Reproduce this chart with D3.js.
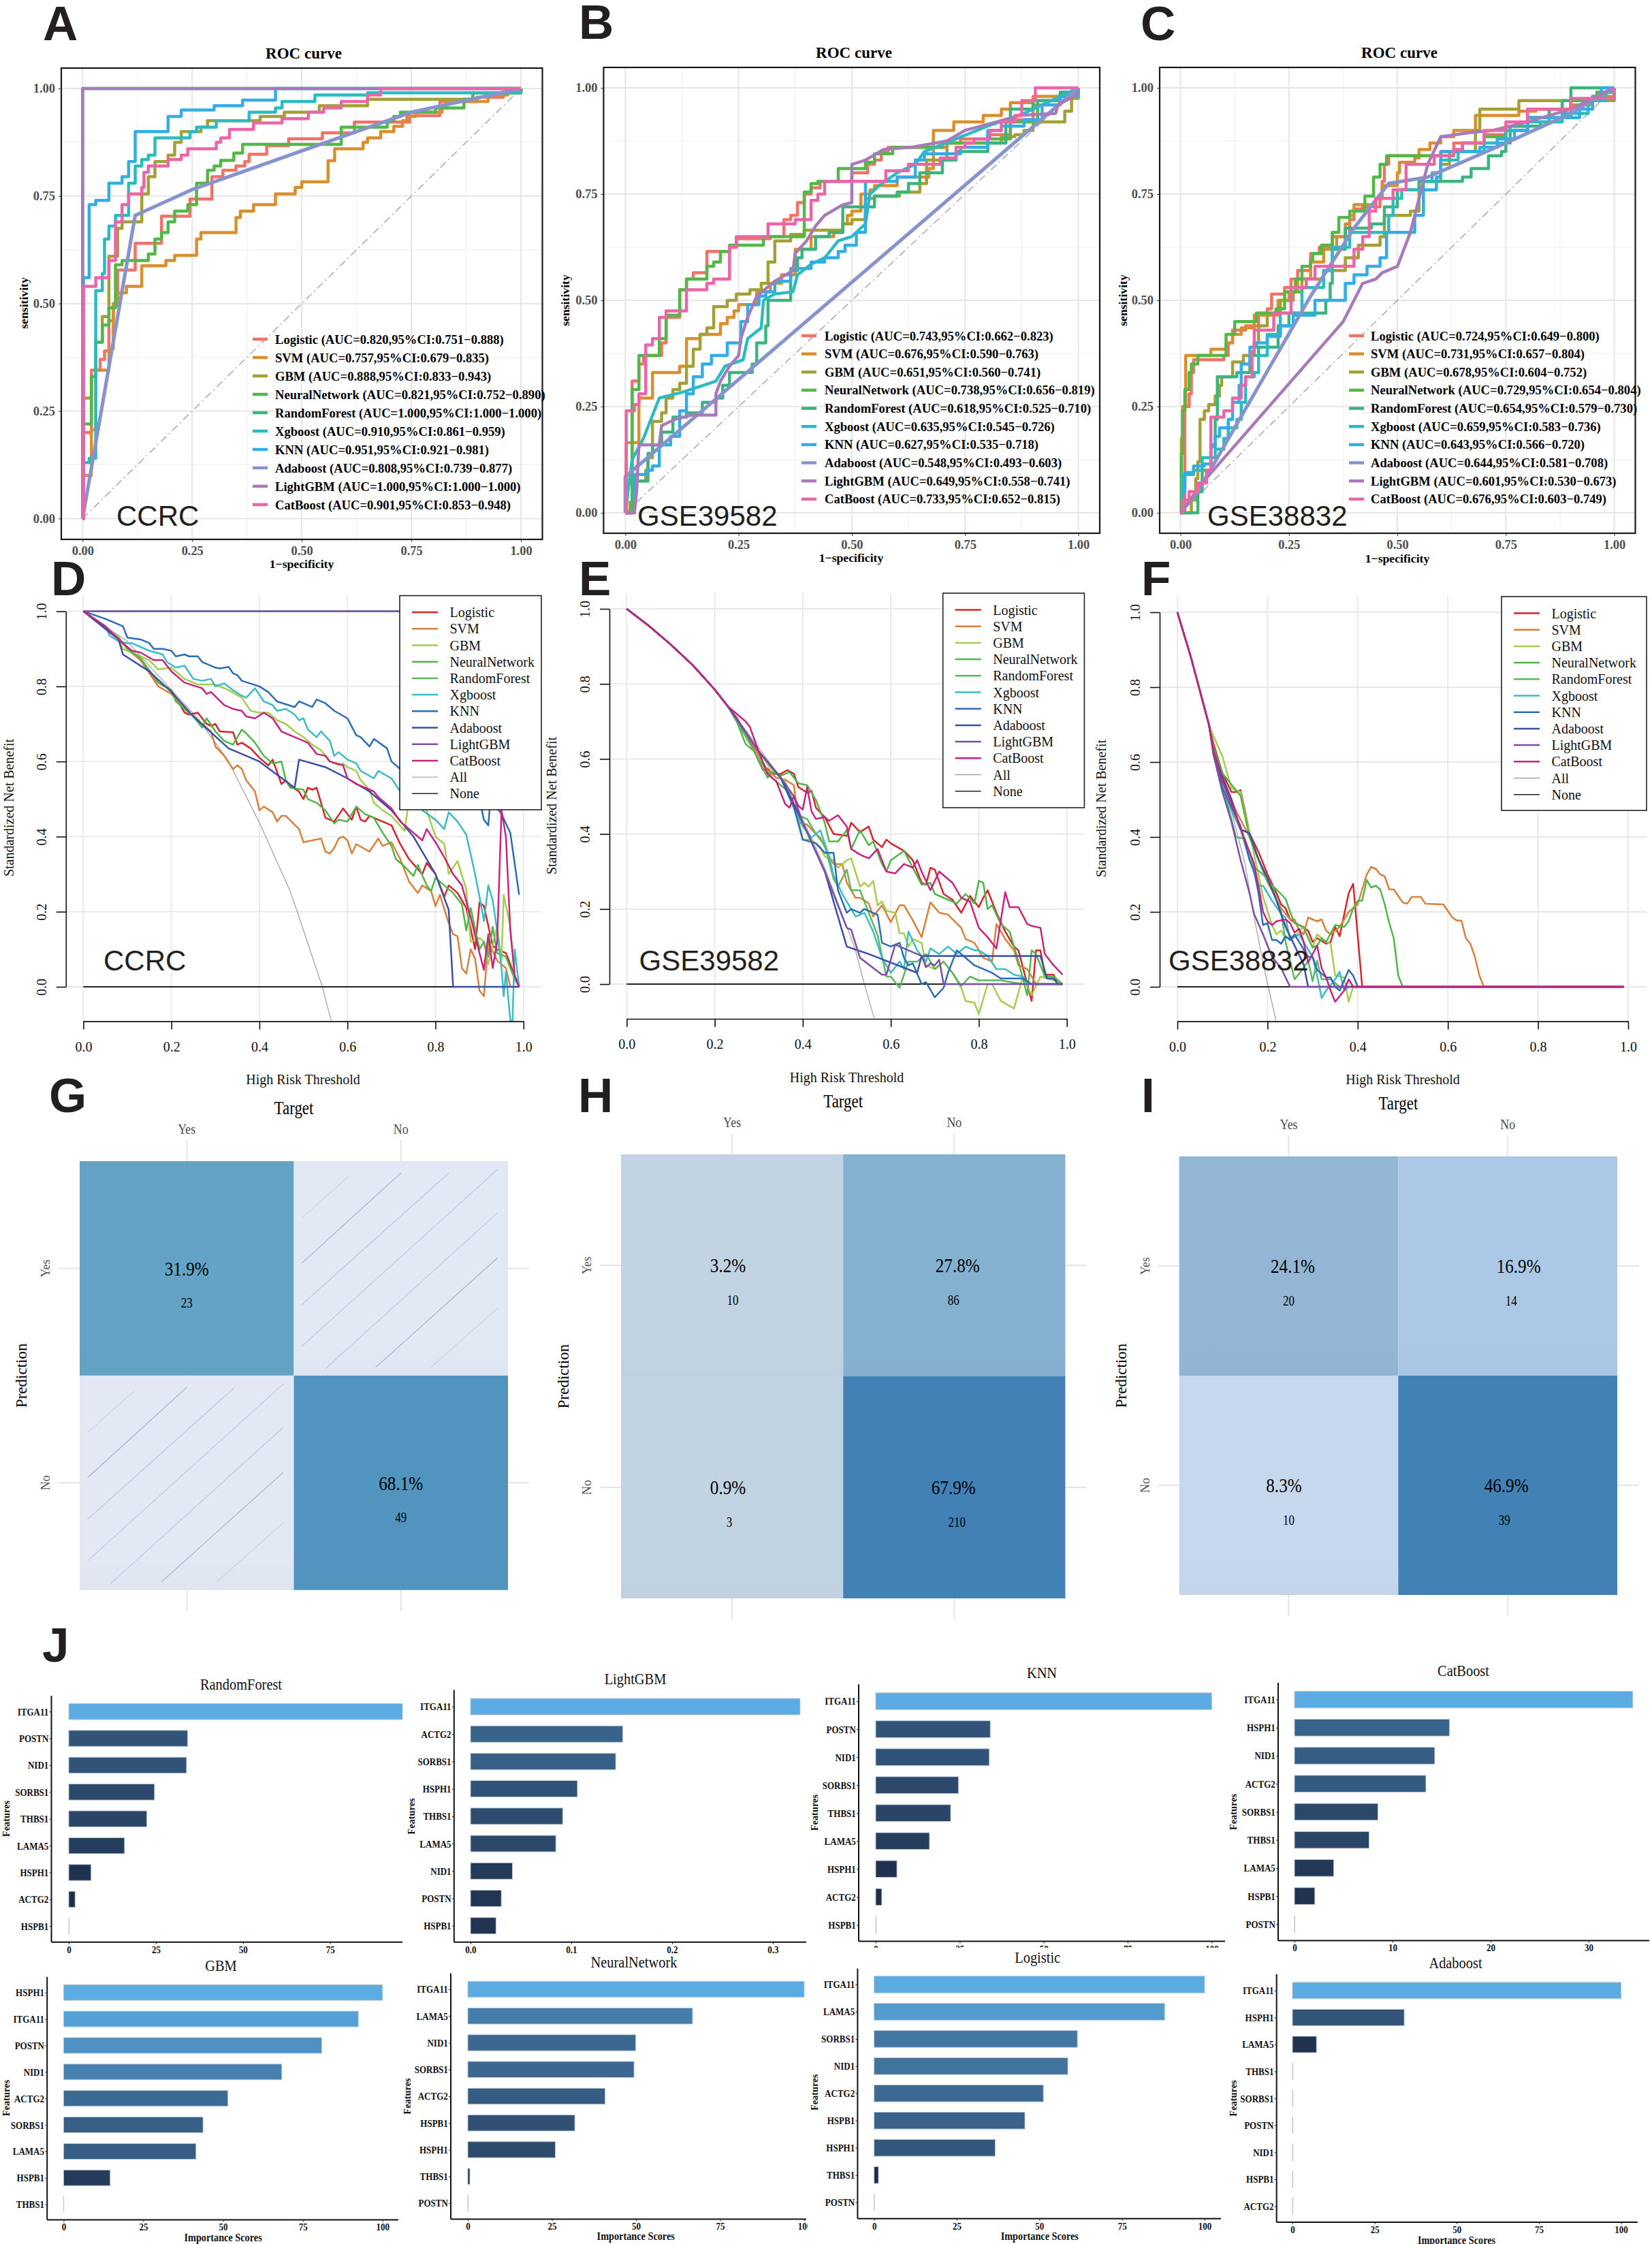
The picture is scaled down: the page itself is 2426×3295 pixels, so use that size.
<!DOCTYPE html>
<html>
<head>
<meta charset="utf-8">
<script src="https://cdn.jsdelivr.net/npm/d3@7"></script>
<style>
  body { margin: 0; background: #fff; }
  svg { display: block; }
</style>
</head>
<body>
<svg id="fig" width="2426" height="3295"></svg>
<script>
var models = ["Logistic", "SVM", "GBM", "NeuralNetwork", "RandomForest", "Xgboost", "KNN", "Adaboost", "LightGBM", "CatBoost"];

// ROC curves, panel A (CCRC)
var aucA = ["0.820,95%CI:0.751−0.888", "0.757,95%CI:0.679−0.835", "0.888,95%CI:0.833−0.943", "0.821,95%CI:0.752−0.890", "1.000,95%CI:1.000−1.000", "0.910,95%CI:0.861−0.959", "0.951,95%CI:0.921−0.981", "0.808,95%CI:0.739−0.877", "1.000,95%CI:1.000−1.000", "0.901,95%CI:0.853−0.948"];
var rocA_Logistic = [[0,0],[.002,.2],[.02,.345],[.04,.37],[.05,.39],[.06,.46],[.07,.5],[.08,.578],[.12,.64],[.18,.703],[.245,.743],[.295,.795],[.32,.81],[.35,.82],[.37,.83],[.38,.847],[.42,.867],[.47,.883],[.547,.897],[.62,.922],[.746,.937],[.815,.97],[.9,.98],[.96,.99],[1,1]];
var rocA_SVM = [[0,0],[.002,.1],[.02,.207],[.03,.345],[.06,.395],[.07,.495],[.08,.525],[.1,.54],[.135,.588],[.19,.6],[.21,.612],[.26,.65],[.27,.665],[.35,.7],[.36,.715],[.39,.73],[.44,.755],[.485,.77],[.5,.783],[.56,.832],[.575,.86],[.64,.875],[.65,.885],[.68,.9],[.71,.912],[.73,.925],[.74,.935],[.76,.945],[.82,.955],[.83,.97],[.925,.985],[.97,.995],[1,1]];
var rocA_GBM = [[0,0],[.002,.28],[.02,.33],[.03,.41],[.045,.47],[.06,.61],[.08,.675],[.09,.69],[.135,.755],[.15,.795],[.165,.83],[.195,.845],[.21,.875],[.225,.9],[.27,.91],[.285,.925],[.405,.935],[.46,.945],[.54,.96],[.65,.975],[.89,.99],[1,1]];
var rocA_NN = [[0,0],[.002,.22],[.02,.33],[.03,.41],[.045,.45],[.06,.49],[.075,.59],[.09,.6],[.15,.615],[.165,.65],[.18,.665],[.195,.69],[.21,.715],[.24,.73],[.26,.78],[.285,.81],[.3,.82],[.315,.833],[.345,.85],[.365,.87],[.59,.91],[.695,.925],[.71,.935],[.725,.945],[.805,.955],[.87,.975],[.89,.99],[1,1]];
var rocA_RF = [[0,0],[0,1],[1,1]];
var rocA_Xgb = [[0,0],[.002,.13],[.015,.14],[.03,.53],[.045,.57],[.05,.65],[.06,.68],[.075,.705],[.105,.78],[.12,.82],[.135,.835],[.15,.845],[.165,.885],[.245,.9],[.26,.91],[.305,.925],[.38,.945],[.44,.955],[.455,.97],[.53,.985],[.65,.99],[1,1]];
var rocA_KNN = [[0,0],[.002,.56],[.015,.73],[.03,.74],[.06,.78],[.09,.795],[.105,.83],[.12,.9],[.195,.935],[.225,.95],[.3,.96],[.365,.973],[.44,1],[1,1]];
var rocA_Ada = [[0,0],[.12,.705],[.25,.765],[.5,.855],[.75,.945],[1,1]];
var rocA_LGB = [[0,0],[0,1],[1,1]];
var rocA_Cat = [[0,0],[.002,.54],[.03,.56],[.06,.6],[.075,.69],[.09,.73],[.105,.755],[.135,.77],[.14,.805],[.15,.82],[.195,.835],[.225,.845],[.24,.86],[.305,.875],[.315,.885],[.335,.905],[.39,.92],[.455,.93],[.515,.945],[.55,.955],[.59,.97],[.65,.985],[.68,1],[1,1]];

// ROC curves, panel B (GSE39582)
var aucB = ["0.743,95%CI:0.662−0.823", "0.676,95%CI:0.590−0.763", "0.651,95%CI:0.560−0.741", "0.738,95%CI:0.656−0.819", "0.618,95%CI:0.525−0.710", "0.635,95%CI:0.545−0.726", "0.627,95%CI:0.535−0.718", "0.548,95%CI:0.493−0.603", "0.649,95%CI:0.558−0.741", "0.733,95%CI:0.652−0.815"];
var rocB_Logistic = [[0,0],[.015,.31],[.03,.35],[.04,.37],[.08,.4],[.09,.46],[.12,.525],[.135,.55],[.15,.565],[.18,.615],[.23,.625],[.245,.645],[.32,.65],[.35,.69],[.365,.7],[.38,.73],[.395,.75],[.41,.765],[.43,.78],[.5,.8],[.535,.82],[.55,.83],[.565,.85],[.58,.86],[.71,.87],[.74,.88],[.8,.89],[.85,.925],[.9,.96],[.96,.985],[1,1]];
var rocB_SVM = [[0,0],[.002,.165],[.03,.27],[.06,.33],[.12,.345],[.135,.41],[.165,.42],[.21,.445],[.225,.46],[.24,.475],[.25,.49],[.29,.52],[.32,.54],[.345,.56],[.375,.62],[.41,.65],[.46,.66],[.48,.68],[.49,.7],[.5,.71],[.52,.75],[.54,.76],[.55,.77],[.6,.79],[.67,.81],[.68,.9],[.725,.92],[.79,.935],[.83,.95],[.85,.965],[.9,.98],[.97,.99],[1,1]];
var rocB_GBM = [[0,0],[.01,.025],[.02,.075],[.045,.1],[.05,.13],[.06,.215],[.08,.235],[.09,.27],[.105,.29],[.12,.305],[.135,.345],[.15,.385],[.165,.42],[.18,.435],[.195,.485],[.225,.5],[.245,.515],[.275,.525],[.3,.54],[.315,.59],[.33,.64],[.365,.655],[.395,.665],[.48,.68],[.5,.69],[.53,.74],[.55,.745],[.605,.755],[.65,.775],[.665,.83],[.71,.87],[.83,.885],[.86,.89],[.88,.9],[.9,.92],[.97,.945],[.985,.975],[1,.99]];
var rocB_NN = [[0,0],[.015,.29],[.03,.37],[.075,.41],[.09,.465],[.12,.525],[.135,.55],[.18,.58],[.195,.59],[.21,.615],[.23,.63],[.305,.65],[.395,.755],[.41,.775],[.425,.78],[.47,.81],[.53,.825],[.55,.845],[.59,.86],[.7,.87],[.8,.88],[.85,.92],[.91,.97],[.96,.985],[1,1]];
var rocB_RF = [[0,0],[.02,.075],[.05,.14],[.06,.16],[.08,.19],[.105,.225],[.135,.235],[.17,.26],[.2,.27],[.215,.3],[.23,.33],[.28,.35],[.29,.4],[.31,.44],[.315,.5],[.365,.57],[.38,.6],[.39,.62],[.42,.65],[.45,.66],[.48,.72],[.55,.745],[.6,.755],[.625,.775],[.65,.8],[.7,.83],[.73,.85],[.8,.87],[.84,.92],[.85,.95],[.9,.97],[.96,.99],[1,1]];
var rocB_Xgb = [[0,0],[.015,.125],[.04,.175],[.075,.27],[.13,.285],[.2,.31],[.22,.345],[.26,.36],[.27,.41],[.3,.435],[.305,.5],[.33,.515],[.37,.52],[.38,.56],[.41,.585],[.44,.6],[.47,.64],[.5,.65],[.53,.68],[.54,.75],[.56,.77],[.6,.8],[.64,.82],[.66,.85],[.73,.88],[.8,.91],[.88,.94],[1,1]];
var rocB_KNN = [[0,0],[.02,.09],[.05,.1],[.06,.11],[.075,.16],[.1,.18],[.12,.24],[.135,.28],[.15,.32],[.17,.35],[.19,.37],[.225,.4],[.255,.45],[.27,.49],[.295,.51],[.31,.52],[.33,.545],[.365,.575],[.41,.59],[.44,.6],[.47,.615],[.485,.63],[.51,.66],[.53,.78],[.6,.79],[.64,.83],[.66,.845],[.74,.86],[.8,.9],[.83,.91],[.88,.925],[.92,.96],[.96,.98],[1,1]];
var rocB_Ada = [[0,0],[0,.085],[1,1]];
var rocB_LGB = [[0,0],[.02,0],[.025,.05],[.03,.16],[.075,.16],[.08,.205],[.11,.22],[.145,.23],[.2,.23],[.2,.28],[.21,.31],[.23,.345],[.25,.37],[.255,.41],[.27,.46],[.29,.51],[.33,.545],[.37,.57],[.375,.61],[.4,.64],[.42,.675],[.44,.7],[.48,.725],[.5,.73],[.5,.82],[.53,.83],[.57,.855],[.63,.86],[.71,.875],[.75,.9],[.82,.92],[.87,.935],[.95,.94],[.955,.96],[.99,.98],[1,.99]];
var rocB_Cat = [[0,0],[.002,.24],[.02,.255],[.03,.28],[.045,.395],[.06,.41],[.075,.46],[.09,.475],[.135,.525],[.18,.54],[.195,.55],[.23,.625],[.245,.65],[.315,.68],[.375,.69],[.41,.735],[.425,.75],[.44,.78],[.575,.805],[.625,.82],[.695,.835],[.73,.86],[.75,.87],[.77,.88],[.805,.9],[.83,.92],[.86,.935],[.875,.97],[.905,1],[1,1]];

// ROC curves, panel C (GSE38832)
var aucC = ["0.724,95%CI:0.649−0.800", "0.731,95%CI:0.657−0.804", "0.678,95%CI:0.604−0.752", "0.729,95%CI:0.654−0.804", "0.654,95%CI:0.579−0.730", "0.659,95%CI:0.583−0.736", "0.643,95%CI:0.566−0.720", "0.644,95%CI:0.581−0.708", "0.601,95%CI:0.530−0.673", "0.676,95%CI:0.603−0.749"];
var rocC_Logistic = [[0,0],[.01,.25],[.02,.28],[.025,.33],[.03,.36],[.1,.37],[.11,.4],[.12,.43],[.15,.44],[.18,.47],[.2,.48],[.21,.515],[.24,.53],[.255,.55],[.27,.57],[.3,.61],[.32,.625],[.35,.65],[.39,.69],[.4,.715],[.42,.72],[.46,.74],[.465,.78],[.47,.82],[.48,.84],[.6,.85],[.63,.87],[.7,.89],[.75,.91],[.8,.93],[.85,.95],[.9,.97],[.96,.99],[1,1]];
var rocC_SVM = [[0,0],[.002,.175],[.005,.25],[.012,.37],[.07,.385],[.105,.4],[.12,.42],[.14,.435],[.17,.465],[.225,.5],[.25,.52],[.27,.55],[.3,.59],[.33,.62],[.36,.65],[.38,.68],[.39,.7],[.4,.725],[.45,.74],[.465,.77],[.5,.8],[.505,.825],[.54,.835],[.55,.855],[.575,.87],[.6,.885],[.63,.9],[.68,.935],[.78,.945],[.82,.95],[.9,.96],[.95,.98],[1,1]];
var rocC_GBM = [[0,0],[.02,0],[.025,.03],[.035,.08],[.04,.12],[.045,.22],[.055,.24],[.065,.255],[.08,.275],[.09,.3],[.095,.32],[.12,.355],[.145,.37],[.17,.4],[.18,.44],[.2,.47],[.23,.5],[.26,.52],[.28,.55],[.33,.57],[.38,.6],[.41,.63],[.46,.65],[.47,.7],[.53,.71],[.55,.78],[.6,.82],[.62,.85],[.68,.9],[.69,.95],[.78,.97],[.985,.97],[1,1]];
var rocC_NN = [[0,0],[.002,.14],[.005,.24],[.01,.29],[.02,.33],[.025,.35],[.04,.37],[.105,.42],[.125,.45],[.175,.47],[.22,.48],[.24,.52],[.265,.55],[.28,.58],[.3,.595],[.305,.61],[.325,.63],[.35,.66],[.365,.695],[.39,.71],[.425,.745],[.445,.79],[.46,.82],[.475,.84],[.63,.85],[.65,.87],[.7,.885],[.75,.9],[.8,.93],[.9,.97],[.96,.99],[1,1]];
var rocC_RF = [[0,0],[.03,0],[.04,.05],[.05,.1],[.07,.16],[.08,.22],[.085,.32],[.13,.33],[.16,.37],[.18,.39],[.225,.44],[.25,.47],[.335,.5],[.345,.54],[.35,.62],[.38,.67],[.44,.68],[.47,.72],[.5,.76],[.55,.78],[.65,.79],[.67,.81],[.71,.84],[.74,.85],[.75,.87],[.76,.91],[.83,.92],[.85,.95],[.88,.97],[.9,1],[1,1]];
var rocC_Xgb = [[0,0],[.005,.09],[.03,.1],[.05,.13],[.08,.15],[.1,.175],[.11,.2],[.13,.22],[.14,.26],[.15,.32],[.17,.33],[.18,.37],[.2,.42],[.23,.47],[.28,.53],[.33,.57],[.35,.625],[.39,.66],[.48,.7],[.49,.74],[.51,.76],[.56,.78],[.58,.8],[.6,.83],[.64,.85],[.7,.87],[.75,.9],[.8,.92],[.88,.94],[.94,.97],[.98,.99],[1,1]];
var rocC_KNN = [[0,0],[.005,.05],[.01,.095],[.03,.11],[.055,.115],[.07,.155],[.08,.18],[.09,.2],[.11,.22],[.12,.26],[.135,.3],[.14,.35],[.16,.39],[.175,.4],[.2,.415],[.23,.44],[.26,.465],[.31,.5],[.38,.54],[.4,.56],[.43,.58],[.46,.6],[.475,.66],[.54,.7],[.56,.76],[.59,.79],[.6,.85],[.69,.86],[.73,.88],[.77,.9],[.8,.93],[.92,.95],[.95,.98],[.97,1],[1,1]];
var rocC_Ada = [[0,0],[.04,.05],[.3,.51],[.4,.67],[.48,.775],[.57,.79],[.75,.87],[.9,.94],[.98,.99],[1,1]];
var rocC_LGB = [[0,0],[.05,.07],[.375,.45],[.42,.54],[.45,.55],[.465,.565],[.5,.58],[.53,.66],[.55,.74],[.57,.82],[.6,.885],[.67,.895],[.72,.9],[.8,.92],[.9,.95],[.96,.98],[1,1]];
var rocC_Cat = [[0,0],[.005,.03],[.02,.05],[.04,.07],[.06,.1],[.07,.225],[.1,.24],[.12,.27],[.14,.3],[.15,.32],[.165,.38],[.17,.43],[.215,.47],[.255,.53],[.29,.55],[.31,.58],[.4,.62],[.42,.65],[.435,.71],[.45,.74],[.49,.76],[.52,.82],[.585,.84],[.63,.855],[.65,.87],[.7,.9],[.75,.92],[.8,.95],[.9,.975],[1,.99],[1,1]];

// decision curves, panel D
var dcaD_All = [[0,1],[.1,.92],[.2,.79],[.26,.715],[.328,.604],[.4,.437],[.468,.26],[.486,.2],[.543,0],[.563,-.09]];
var dcaD_Logistic = [[0,1],[.08,.93],[.1,.9],[.13,.87],[.17,.81],[.2,.79],[.21,.77],[.23,.73],[.24,.725],[.26,.73],[.28,.7],[.29,.695],[.3,.7],[.31,.68],[.34,.678],[.35,.645],[.36,.65],[.38,.635],[.4,.61],[.41,.6],[.42,.59],[.43,.605],[.45,.54],[.46,.55],[.47,.535],[.49,.52],[.5,.5],[.51,.53],[.52,.525],[.53,.53],[.55,.45],[.57,.44],[.59,.475],[.61,.445],[.62,.48],[.63,.445],[.64,.44],[.65,.455],[.68,.44],[.7,.43],[.72,.38],[.74,.34],[.77,.3],[.78,.33],[.8,.3],[.82,.24],[.83,.27],[.85,.25],[.87,.21],[.89,.1],[.9,.225],[.91,.215],[.93,.11],[.94,.1],[.96,.09],[.98,.03],[.99,0]];
var dcaD_SVM = [[0,1],[.08,.93],[.1,.9],[.13,.87],[.17,.8],[.2,.78],[.23,.74],[.25,.72],[.27,.7],[.29,.68],[.3,.64],[.32,.615],[.34,.58],[.35,.59],[.36,.58],[.37,.55],[.39,.52],[.4,.47],[.41,.48],[.43,.465],[.44,.44],[.45,.455],[.46,.455],[.49,.42],[.5,.385],[.54,.395],[.55,.36],[.56,.355],[.57,.37],[.58,.395],[.59,.4],[.6,.39],[.61,.355],[.62,.38],[.65,.36],[.67,.395],[.68,.375],[.7,.385],[.72,.34],[.74,.28],[.76,.25],[.77,.27],[.79,.255],[.8,.215],[.81,.245],[.83,.17],[.84,.14],[.85,.135],[.86,.05],[.87,.035],[.88,.1],[.89,.075],[.9,-.01],[.91,-.025],[.92,.12],[.94,.07],[.96,.05],[.97,0],[.99,0]];
var dcaD_GBM = [[0,1],[.05,.96],[.08,.93],[.09,.9],[.12,.885],[.15,.87],[.17,.845],[.2,.85],[.23,.82],[.26,.805],[.3,.805],[.33,.79],[.36,.77],[.38,.735],[.4,.73],[.42,.73],[.44,.71],[.46,.7],[.48,.68],[.5,.665],[.52,.645],[.54,.63],[.56,.6],[.58,.59],[.59,.595],[.6,.585],[.62,.575],[.63,.55],[.65,.525],[.66,.49],[.68,.47],[.7,.455],[.73,.415],[.74,.5],[.76,.5],[.78,.47],[.8,.4],[.82,.38],[.83,.3],[.85,.335],[.87,.26],[.88,.12],[.9,.13],[.91,.12],[.92,.06],[.94,.16],[.95,.07],[.955,.245],[.97,.16],[.98,.03],[.99,0]];
var dcaD_NN = [[0,1],[.08,.93],[.1,.9],[.13,.875],[.17,.81],[.2,.79],[.21,.76],[.23,.74],[.25,.72],[.27,.69],[.28,.715],[.3,.68],[.32,.655],[.34,.645],[.36,.685],[.37,.675],[.39,.65],[.41,.615],[.43,.595],[.45,.6],[.46,.55],[.47,.53],[.5,.525],[.51,.5],[.53,.49],[.55,.47],[.57,.435],[.58,.445],[.6,.44],[.62,.48],[.64,.46],[.66,.45],[.68,.41],[.7,.375],[.71,.34],[.73,.32],[.75,.295],[.76,.325],[.78,.27],[.79,.255],[.8,.29],[.82,.27],[.84,.25],[.86,.22],[.87,.15],[.88,.21],[.9,.1],[.91,.12],[.92,.08],[.93,.16],[.94,.09],[.96,.08],[.98,.02],[.99,0]];
var dcaD_RF = [[0,1],[.99,1]];
var dcaD_Xgb = [[0,1],[.05,.96],[.06,.935],[.08,.92],[.1,.915],[.11,.915],[.13,.905],[.15,.895],[.18,.885],[.19,.865],[.21,.85],[.23,.855],[.25,.82],[.27,.815],[.29,.82],[.3,.8],[.32,.808],[.34,.79],[.36,.775],[.37,.77],[.39,.795],[.41,.76],[.43,.75],[.44,.735],[.46,.74],[.48,.725],[.49,.71],[.5,.715],[.51,.685],[.53,.665],[.54,.68],[.56,.655],[.57,.615],[.58,.625],[.6,.605],[.62,.595],[.63,.575],[.66,.555],[.67,.575],[.7,.555],[.72,.52],[.74,.5],[.77,.47],[.8,.445],[.82,.42],[.83,.465],[.85,.44],[.87,.405],[.89,.3],[.9,.24],[.91,.175],[.92,.27],[.93,.23],[.94,.15],[.95,.05],[.955,-.025],[.96,.04],[.97,-.09],[.975,-.09],[.98,.1],[.99,0]];
var dcaD_KNN = [[0,1],[.05,.98],[.08,.965],[.09,.96],[.1,.93],[.13,.925],[.15,.915],[.16,.9],[.18,.9],[.2,.895],[.21,.88],[.23,.885],[.24,.88],[.26,.88],[.27,.865],[.3,.85],[.31,.848],[.33,.852],[.34,.835],[.35,.83],[.36,.815],[.4,.8],[.42,.785],[.44,.76],[.48,.745],[.49,.76],[.52,.745],[.53,.765],[.55,.755],[.57,.735],[.6,.715],[.62,.67],[.63,.665],[.65,.64],[.66,.66],[.69,.635],[.7,.6],[.72,.58],[.74,.55],[.85,.55],[.9,.5],[.91,.445],[.92,.43],[.925,.5],[.95,.46],[.97,.41],[.99,.245]];
var dcaD_Ada = [[0,1],[.08,.925],[.09,.885],[.15,.84],[.2,.785],[.25,.72],[.33,.635],[.4,.6],[.48,.53],[.49,.605],[.55,.585],[.6,.555],[.65,.52],[.7,.47],[.75,.4],[.78,.34],[.8,.3],[.83,.205],[.84,0],[.99,0]];
var dcaD_LGB = [[0,1],[.99,1]];
var dcaD_Cat = [[0,1],[.05,.96],[.08,.925],[.11,.895],[.13,.89],[.16,.87],[.18,.87],[.2,.84],[.23,.81],[.27,.795],[.28,.78],[.29,.785],[.32,.75],[.34,.74],[.36,.735],[.37,.72],[.39,.715],[.41,.73],[.43,.715],[.45,.68],[.48,.665],[.51,.65],[.53,.62],[.55,.615],[.56,.6],[.59,.59],[.6,.555],[.62,.54],[.66,.52],[.67,.505],[.7,.475],[.72,.44],[.74,.42],[.77,.39],[.78,.42],[.8,.385],[.82,.345],[.84,.3],[.86,.27],[.88,.185],[.9,.09],[.91,.045],[.92,.14],[.93,.05],[.94,.12],[.95,.47],[.96,.4],[.97,.15],[.98,.03],[.99,0]];

// decision curves, panel E (every model shares the same start)
var dcaE_head = [[0,1],[.05,.955],[.1,.905],[.15,.85],[.2,.785],[.23,.74]];
var dcaE_All = [[.3,.63],[.35,.55],[.4,.44],[.45,.31],[.518,.097],[.54,0],[.562,-.09]];
var dcaE_Logistic = [[.25,.71],[.27,.67],[.29,.62],[.31,.57],[.32,.575],[.33,.56],[.35,.56],[.365,.57],[.38,.56],[.39,.525],[.41,.51],[.42,.515],[.43,.47],[.45,.445],[.47,.4],[.5,.395],[.51,.43],[.53,.405],[.55,.42],[.56,.385],[.58,.365],[.59,.385],[.6,.375],[.63,.355],[.65,.33],[.67,.27],[.68,.265],[.69,.31],[.7,.305],[.72,.24],[.74,.225],[.76,.19],[.78,.235],[.8,.205],[.81,.23],[.82,.25],[.84,.19],[.86,.14],[.88,.1],[.89,.09],[.91,0],[.92,-.045],[.93,.09],[.94,.09],[.95,.025],[.97,.025],[.98,0],[.99,0]];
var dcaE_SVM = [[.27,.67],[.3,.61],[.32,.57],[.34,.55],[.36,.545],[.38,.53],[.39,.43],[.41,.425],[.43,.4],[.44,.39],[.46,.34],[.47,.32],[.49,.32],[.5,.27],[.52,.23],[.53,.23],[.55,.215],[.56,.18],[.58,.21],[.6,.165],[.62,.21],[.63,.21],[.65,.17],[.67,.125],[.69,.218],[.71,.19],[.73,.185],[.76,.15],[.77,.12],[.79,.11],[.81,.07],[.83,.06],[.84,.16],[.86,.12],[.88,.09],[.89,.05],[.91,.04],[.93,0],[.99,0]];
var dcaE_GBM = [[.27,.67],[.3,.62],[.33,.57],[.36,.54],[.38,.48],[.39,.44],[.4,.385],[.42,.385],[.44,.365],[.45,.34],[.47,.33],[.48,.31],[.5,.33],[.51,.335],[.53,.26],[.54,.27],[.55,.26],[.56,.275],[.57,.21],[.58,.22],[.59,.195],[.61,.19],[.62,.135],[.63,.135],[.64,.1],[.65,.12],[.67,.11],[.68,.05],[.7,.04],[.72,.06],[.74,.03],[.76,-.01],[.77,-.045],[.79,-.05],[.8,-.08],[.82,0],[.83,0],[.85,-.045],[.88,-.065],[.9,.02],[.92,-.03],[.94,.02],[.97,.01],[.99,0]];
var dcaE_NN = [[.25,.7],[.27,.64],[.29,.62],[.32,.55],[.33,.565],[.35,.555],[.37,.565],[.39,.535],[.41,.53],[.43,.49],[.45,.43],[.46,.38],[.48,.38],[.5,.41],[.51,.36],[.53,.41],[.55,.37],[.56,.38],[.58,.32],[.59,.3],[.6,.33],[.63,.355],[.65,.31],[.67,.265],[.69,.27],[.7,.24],[.72,.23],[.75,.215],[.77,.24],[.79,.215],[.8,.275],[.81,.27],[.82,.2],[.83,.21],[.85,.16],[.87,.14],[.89,.06],[.91,-.03],[.92,.09],[.93,.08],[.95,.02],[.97,.02],[.99,0]];
var dcaE_RF = [[.27,.66],[.3,.6],[.33,.55],[.37,.51],[.39,.45],[.41,.44],[.43,.4],[.45,.37],[.47,.28],[.48,.26],[.5,.305],[.51,.25],[.53,.25],[.55,.19],[.57,.13],[.59,.02],[.6,.02],[.62,-.01],[.64,.06],[.66,.06],[.68,.08],[.7,.04],[.72,.06],[.74,.03],[.76,-.005],[.78,.02],[.8,.01],[.85,.01],[.9,0],[.99,0]];
var dcaE_Xgb = [[.3,.62],[.35,.55],[.38,.47],[.4,.42],[.42,.39],[.44,.41],[.46,.34],[.47,.29],[.49,.24],[.52,.18],[.54,.19],[.56,.14],[.58,.07],[.6,.03],[.62,.06],[.63,.04],[.64,.14],[.66,.09],[.68,.06],[.69,.095],[.71,.08],[.73,.1],[.75,.08],[.77,.1],[.79,.09],[.8,.09],[.82,.075],[.84,.04],[.86,.04],[.88,.025],[.9,.02],[.91,0],[.99,0]];
var dcaE_KNN = [[.3,.62],[.35,.55],[.38,.47],[.4,.385],[.43,.375],[.45,.35],[.47,.35],[.48,.25],[.5,.19],[.51,.2],[.53,.19],[.54,.2],[.57,.185],[.58,.11],[.6,.1],[.62,.11],[.63,.07],[.64,.05],[.65,.055],[.67,0],[.68,.005],[.7,-.035],[.72,-.01],[.73,.03],[.75,.09],[.77,.07],[.79,.05],[.81,.04],[.83,.03],[.85,.015],[.9,.015],[.92,0],[.99,0]];
var dcaE_Ada = [[.3,.62],[.35,.55],[.4,.43],[.45,.3],[.5,.1],[.55,.08],[.66,.03],[.67,.075],[.94,.075],[.955,.015],[.97,.015],[.98,0],[.99,0]];
var dcaE_LGB = [[.3,.62],[.35,.55],[.38,.5],[.4,.43],[.45,.3],[.5,.15],[.51,.145],[.53,.07],[.58,.025],[.59,.025],[.61,.105],[.63,.095],[.67,.075],[.68,.045],[.69,.055],[.7,.05],[.71,.065],[.72,0],[.99,0]];
var dcaE_Cat = [[.27,.7],[.28,.685],[.3,.62],[.32,.56],[.34,.54],[.36,.48],[.37,.47],[.38,.5],[.39,.475],[.4,.465],[.41,.525],[.42,.46],[.43,.44],[.45,.445],[.46,.435],[.48,.45],[.5,.42],[.51,.36],[.53,.345],[.55,.335],[.57,.36],[.59,.3],[.61,.295],[.63,.32],[.65,.31],[.66,.33],[.67,.3],[.69,.25],[.71,.3],[.74,.27],[.76,.23],[.78,.22],[.8,.15],[.82,.125],[.84,.095],[.86,.245],[.87,.205],[.89,.205],[.91,.16],[.92,.155],[.94,.15],[.95,.08],[.97,.05],[.99,.025]];

// decision curves, panel F
var dcaF_head = [[0,1],[.03,.88],[.05,.79],[.07,.7]];
var dcaF_All = [[.1,.56],[.15,.33],[.171,.18],[.199,.012],[.219,-.09]];
var dcaF_Logistic = [[.08,.65],[.1,.57],[.12,.52],[.13,.52],[.14,.525],[.15,.47],[.16,.41],[.18,.36],[.2,.3],[.22,.25],[.23,.22],[.24,.21],[.25,.18],[.27,.165],[.29,.15],[.3,.12],[.31,.13],[.33,.115],[.34,.12],[.35,.16],[.36,.135],[.38,.25],[.39,.275],[.41,0],[.99,0]];
var dcaF_SVM = [[.08,.64],[.1,.56],[.13,.47],[.16,.4],[.18,.34],[.2,.28],[.23,.21],[.25,.18],[.26,.18],[.27,.15],[.28,.14],[.29,.185],[.3,.18],[.31,.175],[.32,.18],[.33,.15],[.34,.14],[.36,.16],[.38,.2],[.4,.22],[.42,.3],[.43,.32],[.44,.315],[.45,.3],[.46,.295],[.47,.26],[.48,.26],[.5,.225],[.51,.222],[.52,.24],[.54,.24],[.55,.222],[.59,.22],[.61,.185],[.62,.177],[.63,.177],[.64,.13],[.65,.115],[.66,.08],[.67,.03],[.68,0],[.99,0]];
var dcaF_GBM = [[.08,.67],[.1,.615],[.12,.53],[.14,.52],[.16,.41],[.18,.3],[.19,.24],[.21,.165],[.22,.14],[.23,.15],[.24,.13],[.26,.135],[.28,.16],[.3,.105],[.31,.14],[.33,.12],[.34,.115],[.35,.03],[.37,.025],[.38,-.04],[.39,0],[.99,0]];
var dcaF_NN = [[.08,.64],[.1,.57],[.12,.54],[.14,.51],[.16,.4],[.18,.34],[.2,.28],[.22,.26],[.24,.235],[.25,.2],[.26,.17],[.28,.16],[.29,.13],[.3,.105],[.31,.11],[.32,.13],[.33,.12],[.35,.165],[.37,.16],[.38,.175],[.39,.21],[.4,.23],[.41,.23],[.42,.285],[.43,.265],[.44,.27],[.45,.26],[.46,.22],[.47,.17],[.48,.13],[.49,.03],[.5,0],[.99,0]];
var dcaF_RF = [[.08,.62],[.1,.54],[.13,.4],[.15,.395],[.17,.32],[.19,.3],[.21,.27],[.23,.2],[.24,.12],[.26,.02],[.28,.05],[.29,.07],[.3,.015],[.31,.07],[.32,.02],[.34,.02],[.36,0],[.99,0]];
var dcaF_Xgb = [[.08,.63],[.1,.54],[.12,.47],[.14,.42],[.16,.34],[.18,.27],[.19,.27],[.21,.23],[.23,.195],[.24,.185],[.25,.125],[.27,.14],[.29,.1],[.3,.08],[.31,.03],[.32,-.03],[.33,-.01],[.35,.02],[.36,.04],[.37,-.01],[.38,0],[.99,0]];
var dcaF_KNN = [[.08,.63],[.1,.53],[.12,.48],[.14,.43],[.16,.34],[.17,.31],[.18,.25],[.19,.165],[.2,.17],[.21,.125],[.22,.125],[.23,.115],[.24,.135],[.25,.125],[.26,.14],[.28,.1],[.29,.08],[.3,.08],[.31,.045],[.33,.025],[.34,.025],[.35,0],[.36,-.01],[.38,.045],[.39,.03],[.4,0],[.99,0]];
var dcaF_Ada = [[.08,.63],[.1,.56],[.12,.5],[.14,.42],[.16,.41],[.18,.34],[.2,.29],[.22,.23],[.24,.16],[.26,.11],[.28,.06],[.29,0],[.99,0]];
var dcaF_LGB = [[.08,.62],[.1,.52],[.12,.44],[.14,.34],[.16,.25],[.17,.195],[.19,.14],[.21,.08],[.23,.05],[.25,0],[.99,0]];
var dcaF_Cat = [[.08,.63],[.1,.55],[.13,.46],[.15,.39],[.17,.33],[.18,.27],[.19,.2],[.2,.175],[.21,.165],[.22,.175],[.24,.18],[.25,.17],[.26,.145],[.27,.155],[.28,.12],[.29,.065],[.31,.11],[.32,.05],[.33,.025],[.34,-.01],[.35,-.04],[.36,-.025],[.37,-.01],[.38,.02],[.39,0],[.99,0]];

// confusion matrices, order: Yes/Yes, Yes/No, No/Yes, No/No (prediction/target)
var classes = ["Yes", "No"];
var pctG = ["31.9%", "", "", "68.1%"], cntG = ["23", "", "", "49"];
var pctH = ["3.2%", "27.8%", "0.9%", "67.9%"], cntH = ["10", "86", "3", "210"];
var pctI = ["24.1%", "16.9%", "8.3%", "46.9%"], cntI = ["20", "14", "10", "39"];

// feature importance
var featRF = ["ITGA11", "POSTN", "NID1", "SORBS1", "THBS1", "LAMA5", "HSPH1", "ACTG2", "HSPB1"];
var impRF = [100, 34.1, 33.8, 24.6, 22.4, 16, 6.4, 1.8, 0];
var featLGB = ["ITGA11", "ACTG2", "SORBS1", "HSPH1", "THBS1", "LAMA5", "NID1", "POSTN", "HSPB1"];
var impLGB = [.327, .151, .144, .106, .0914, .0846, .0415, .0305, .0252];
var featKNN = ["ITGA11", "POSTN", "NID1", "SORBS1", "THBS1", "LAMA5", "HSPH1", "ACTG2", "HSPB1"];
var impKNN = [100, 34.1, 33.8, 24.6, 22.3, 16, 6.3, 1.8, 0];
var featCat = ["ITGA11", "HSPH1", "NID1", "ACTG2", "SORBS1", "THBS1", "LAMA5", "HSPB1", "POSTN"];
var impCat = [34.5, 15.8, 14.3, 13.4, 8.5, 7.6, 4, 2.07, 0];
var featGBM = ["HSPH1", "ITGA11", "POSTN", "NID1", "ACTG2", "SORBS1", "LAMA5", "HSPB1", "THBS1"];
var impGBM = [100, 92.4, 80.9, 68.4, 51.5, 43.7, 41.5, 14.6, 0];
var featNN = ["ITGA11", "LAMA5", "NID1", "SORBS1", "ACTG2", "HSPB1", "HSPH1", "THBS1", "POSTN"];
var impNN = [100, 66.8, 49.9, 49.4, 40.8, 31.8, 26, .6, 0];
var featLog = ["ITGA11", "LAMA5", "SORBS1", "NID1", "ACTG2", "HSPB1", "HSPH1", "THBS1", "POSTN"];
var impLog = [100, 87.9, 61.5, 58.6, 51.2, 45.6, 36.6, 1.3, 0];
var featAda = ["ITGA11", "HSPH1", "LAMA5", "THBS1", "SORBS1", "POSTN", "NID1", "HSPB1", "ACTG2"];
var impAda = [100, 34, 7.3, 0, 0, 0, 0, 0, 0];

var rocColors = ["#f0736a", "#d8902f", "#a3a035", "#52b848", "#3cb480", "#2abcc0", "#32ade6", "#8793cf", "#a87ab9", "#ea66a8"];
var dcaColors = ["#d7242b", "#d9813a", "#a6cd4d", "#4eb748", "#5cb85c", "#3dbbc4", "#2d6db5", "#3a4fa5", "#7e4ea6", "#c7247f"];
var serif = '"Liberation Serif", serif', sans = '"Liberation Sans", sans-serif';

var svg = d3.select("#fig");
var defs = svg.append("defs");
var clipN = 0;

function label(g, x, y, str, size, opt) {
  opt = opt || {};
  var t = g.append("text")
    .attr("x", x).attr("y", y)
    .attr("text-anchor", opt.anchor || "middle")
    .attr("dominant-baseline", opt.base || "central")
    .attr("font-family", opt.font || serif)
    .attr("font-size", size)
    .attr("font-weight", opt.weight || "normal")
    .attr("fill", opt.fill || "#000")
    .text(str);
  if (opt.rotate) t.attr("transform", "rotate(-90," + x + "," + y + ")");
  // the lower panels of the figure were stretched vertically, so the glyphs are narrow
  if (opt.narrow) t.attr("transform", "translate(" + x + "," + y + ") scale(" + opt.narrow + ",1) translate(" + (-x) + "," + (-y) + ")");
  return t;
}

function addClip(x, y, w, h) {
  var id = "clip" + (clipN++);
  defs.append("clipPath").attr("id", id).append("rect")
    .attr("x", x).attr("y", y).attr("width", w).attr("height", h);
  return "url(#" + id + ")";
}

function panelLetter(s, x, y) {
  label(svg, x, y, s, 71, { anchor: "start", base: "alphabetic", font: sans, weight: "bold", fill: "#231f20" });
}

// ggplot style ROC panel
function drawRoc(c, curves, auc, linear) {
  var g = svg.append("g");
  var x = d3.scaleLinear().domain([0, 1]).range([c.x0, c.x1]);
  var y = d3.scaleLinear().domain([0, 1]).range([c.y0, c.y1]);
  var minor = [.125, .375, .625, .875], major = [0, .25, .5, .75, 1];

  g.selectAll(".vmin").data(minor).enter().append("line")
    .attr("x1", x).attr("x2", x).attr("y1", c.top).attr("y2", c.bottom)
    .attr("stroke", "#f0f0f0").attr("stroke-width", 1);
  g.selectAll(".hmin").data(minor).enter().append("line")
    .attr("y1", y).attr("y2", y).attr("x1", c.left).attr("x2", c.right)
    .attr("stroke", "#f0f0f0").attr("stroke-width", 1);
  g.selectAll(".vmaj").data(major).enter().append("line")
    .attr("x1", x).attr("x2", x).attr("y1", c.top).attr("y2", c.bottom)
    .attr("stroke", "#e6e6e6").attr("stroke-width", 2);
  g.selectAll(".hmaj").data(major).enter().append("line")
    .attr("y1", y).attr("y2", y).attr("x1", c.left).attr("x2", c.right)
    .attr("stroke", "#e6e6e6").attr("stroke-width", 2);

  g.append("line").attr("x1", x(0)).attr("y1", y(0)).attr("x2", x(1)).attr("y2", y(1))
    .attr("stroke", "#b5b5b5").attr("stroke-width", 1.8).attr("stroke-dasharray", "11 5 2 5");

  var stepLine = d3.line().x(function (d) { return x(d[0]); }).y(function (d) { return y(d[1]); }).curve(d3.curveStepAfter);
  var straight = d3.line().x(function (d) { return x(d[0]); }).y(function (d) { return y(d[1]); });
  curves.forEach(function (pts, i) {
    var isLinear = linear.indexOf(i) >= 0;
    g.append("path").attr("d", isLinear ? straight(pts) : stepLine(pts))
      .attr("fill", "none").attr("stroke", rocColors[i]).attr("stroke-width", i === 7 ? 5.2 : 4.5)
      .attr("stroke-linejoin", "round");
  });

  g.append("rect").attr("x", c.left).attr("y", c.top).attr("width", c.right - c.left).attr("height", c.bottom - c.top)
    .attr("fill", "none").attr("stroke", "#1a1a1a").attr("stroke-width", 2.2);

  var fmt = d3.format(".2f");
  var ax = g.append("g").attr("transform", "translate(0," + c.bottom + ")")
    .call(d3.axisBottom(x).tickValues(major).tickFormat(fmt).tickSize(4).tickPadding(6));
  var ay = g.append("g").attr("transform", "translate(" + c.left + ",0)")
    .call(d3.axisLeft(y).tickValues(major).tickFormat(fmt).tickSize(4).tickPadding(5));
  [ax, ay].forEach(function (a) {
    a.select(".domain").remove();
    a.selectAll("line").attr("stroke", "#333");
    a.selectAll("text").attr("font-family", serif).attr("font-size", 18.4).attr("font-weight", "bold").attr("fill", "#4d4d4d");
  });

  label(g, c.titleX, c.titleY, "ROC curve", 23, { weight: "bold" });
  label(g, c.xlabX, c.xlabY, "1−specificity", 17.7, { weight: "bold" });
  label(g, c.ylabX, c.ylabY, "sensitivity", 17.7, { weight: "bold", rotate: true });

  models.forEach(function (m, i) {
    var ly = c.legY + i * c.legStep;
    g.append("line").attr("x1", c.legX0).attr("x2", c.legX0 + 22).attr("y1", ly).attr("y2", ly)
      .attr("stroke", rocColors[i]).attr("stroke-width", 4.5);
    label(g, c.legText, ly, m + " (AUC=" + auc[i] + ")", 18.6, { anchor: "start", weight: "bold" });
  });
  label(g, c.nameX, c.nameY, c.name, 42, { anchor: "start", font: sans, fill: "#231f20" });
}

// R base style decision curve panel
function drawDca(c, curves, all) {
  var g = svg.append("g");
  var x = d3.scaleLinear().domain([0, 1]).range([c.x0, c.x1]);
  var y = d3.scaleLinear().domain([0, 1]).range([c.y0, c.y1]);
  var ticks = [0, .2, .4, .6, .8, 1];

  g.selectAll(".gv").data(ticks).enter().append("line")
    .attr("x1", x).attr("x2", x).attr("y1", c.top).attr("y2", c.axisY)
    .attr("stroke", "#e8e8e8").attr("stroke-width", 1.8);
  g.selectAll(".gh").data(ticks).enter().append("line")
    .attr("y1", y).attr("y2", y).attr("x1", c.left).attr("x2", c.right)
    .attr("stroke", "#e8e8e8").attr("stroke-width", 1.8);

  var clip = addClip(c.left, c.top, c.right - c.left, c.axisY - c.top);
  var line = d3.line().x(function (d) { return x(d[0]); }).y(function (d) { return y(d[1]); });
  var plot = g.append("g").attr("clip-path", clip);
  plot.append("path").attr("d", line(all)).attr("fill", "none").attr("stroke", "#a5a5a5").attr("stroke-width", 1.3);
  plot.append("path").attr("d", line([[0, 0], [.99, 0]])).attr("fill", "none").attr("stroke", "#222").attr("stroke-width", 2);
  curves.forEach(function (pts, i) {
    plot.append("path").attr("d", line(pts)).attr("fill", "none")
      .attr("stroke", dcaColors[i]).attr("stroke-width", 2.5).attr("stroke-linejoin", "round");
  });

  var ax = g.append("g").attr("transform", "translate(0," + c.axisY + ")")
    .call(d3.axisBottom(x).tickValues(ticks).tickFormat(d3.format(".1f")).tickSize(12).tickPadding(18).tickSizeOuter(0));
  var ay = g.append("g").attr("transform", "translate(" + c.left + ",0)")
    .call(d3.axisLeft(y).tickValues(ticks).tickFormat(d3.format(".1f")).tickSize(14).tickSizeOuter(0));
  [ax, ay].forEach(function (a) {
    a.selectAll(".domain,line").attr("stroke", "#111").attr("stroke-width", 1.6);
    a.selectAll("text").attr("font-family", serif).attr("font-size", 20).attr("fill", "#111");
  });
  ay.selectAll("text").attr("x", 0).attr("dy", 0)
    .attr("text-anchor", "middle").attr("dominant-baseline", "central")
    .attr("transform", "translate(-36,0) rotate(-90)");

  label(g, c.xlabX, c.xlabY, "High Risk Threshold", 20, { fill: "#111" });
  label(g, c.ylabX, c.ylabY, "Standardized Net Benefit", 20, { rotate: true, fill: "#111" });

  // legend box sits above the curves
  g.append("rect").attr("x", c.legL).attr("y", c.legT).attr("width", c.right - c.legL).attr("height", c.legB - c.legT)
    .attr("fill", "#fff").attr("stroke", "#222").attr("stroke-width", 1.6);
  var names = models.concat(["All", "None"]);
  var cols = dcaColors.concat(["#a5a5a5", "#222"]);
  names.forEach(function (m, i) {
    var ly = c.legT + 24.5 + i * 24.2;
    g.append("line").attr("x1", c.legL + 18).attr("x2", c.legL + 56).attr("y1", ly).attr("y2", ly)
      .attr("stroke", cols[i]).attr("stroke-width", i < 10 ? 2.5 : 1.4);
    label(g, c.legL + 73.5, ly, m, 20, { anchor: "start", fill: "#111" });
  });
  label(g, c.nameX, c.nameY, c.name, 42, { anchor: "start", font: sans, fill: "#231f20" });
}

// faint diagonal streaks seen in the pale G cells, as fractions of the cell
var streaks = [
  [.037, .265, .256, .071, .25], [.037, .476, .5, .055, .6], [.037, .67, .724, .055, .4],
  [.037, .864, .951, .039, .35], [.146, .969, .951, .241, .35], [.383, .961, .951, .451, .6],
  [.641, .961, .951, .686, .25]
];

var shade = defs.append("linearGradient").attr("id", "cellShade").attr("x1", 0).attr("x2", 0).attr("y1", 0).attr("y2", 1);
shade.append("stop").attr("offset", "85%").attr("stop-color", "#6a7f9c").attr("stop-opacity", 0);
shade.append("stop").attr("offset", "100%").attr("stop-color", "#6a7f9c").attr("stop-opacity", .04);

function drawConfusion(c, pct, cnt) {
  var g = svg.append("g");
  var x = d3.scaleBand().domain(classes).range([c.left, c.right]);
  var y = d3.scaleBand().domain(classes).range([c.top, c.bottom]);
  var cells = [];
  classes.forEach(function (p) { classes.forEach(function (t) { cells.push({ p: p, t: t }); }); });

  classes.forEach(function (k) {
    var cx = x(k) + x.bandwidth() / 2, cy = y(k) + y.bandwidth() / 2;
    g.append("line").attr("x1", cx).attr("x2", cx).attr("y1", c.top - 31).attr("y2", c.bottom + 31)
      .attr("stroke", "#e5e5e5").attr("stroke-width", 2);
    g.append("line").attr("y1", cy).attr("y2", cy).attr("x1", c.left - 31).attr("x2", c.right + 31)
      .attr("stroke", "#e5e5e5").attr("stroke-width", 2);
    label(g, cx, c.top - 47, k, 21, { fill: "#4d4d4d", narrow: .85 });
    label(g, c.left - 50, cy, k, 18, { fill: "#4d4d4d", rotate: true });
  });

  cells.forEach(function (d, i) {
    var bx = x(d.t), by = y(d.p), w = x.bandwidth(), h = y.bandwidth();
    g.append("rect").attr("x", bx).attr("y", by).attr("width", w).attr("height", h).attr("fill", c.fills[i]);
    g.append("rect").attr("x", bx).attr("y", by).attr("width", w).attr("height", h).attr("fill", "url(#cellShade)");
    if (c.streaks && d.p !== d.t) {
      var fx = d3.scaleLinear().range([bx, bx + w]), fy = d3.scaleLinear().range([by, by + h]);
      streaks.forEach(function (s) {
        g.append("line").attr("x1", fx(s[0])).attr("y1", fy(s[1])).attr("x2", fx(s[2])).attr("y2", fy(s[3]))
          .attr("stroke", "#7f88a0").attr("stroke-width", 1.1).attr("stroke-opacity", s[4]);
      });
    }
    var cx = bx + w / 2, cy = by + h / 2;
    label(g, cx + c.pctDx[i], cy, pct[i], 30, { narrow: .84 });
    label(g, cx + c.cntDx[i], cy + 51, cnt[i], 20, { narrow: .85 });
  });

  label(g, (c.left + c.right) / 2, c.top - 78, "Target", 27, { narrow: .85 });
  label(g, c.left - 85, (c.top + c.bottom) / 2, "Prediction", 23, { rotate: true });
}

var barLow = "#1d2b47", barHigh = "#5aace2";

function drawBars(c, feats, vals) {
  var g = svg.append("g").attr("clip-path", addClip(c.clip[0], c.clip[1], c.clip[2] - c.clip[0], c.clip[3] - c.clip[1]));
  var x = d3.scaleLinear().domain([0, c.tickMax]).range([c.x0, c.xMax]);
  var y = d3.scalePoint().domain(feats).range([c.yFirst, c.yLast]);
  var color = d3.scaleLinear().domain([0, d3.max(vals)]).range([barLow, barHigh]).interpolate(d3.interpolateLab);

  var plot = g.append("g").attr("clip-path", addClip(c.left, c.top, c.right - c.left, c.bottom - c.top));
  plot.selectAll("rect").data(feats).enter().append("rect")
    .attr("x", x(0))
    .attr("y", function (d) { return y(d) - c.barH / 2; })
    // a zero bar still shows as a hairline in the reference
    .attr("width", function (d, i) { return Math.max(x(vals[i]) - x(0), .3); })
    .attr("height", c.barH)
    .attr("fill", function (d, i) { return color(vals[i]); })
    .attr("stroke", "#bcc6d2").attr("stroke-width", .9);

  var ax = g.append("g").attr("transform", "translate(0," + c.bottom + ")")
    .call(d3.axisBottom(x).tickValues(c.ticks).tickFormat(c.fmt || d3.format("d")).tickSize(3).tickPadding(2).tickSizeOuter(0));
  ax.select(".domain").attr("d", "M" + c.left + ",0H" + c.right);
  var ay = g.append("g").attr("transform", "translate(" + c.left + ",0)")
    .call(d3.axisLeft(y).tickSize(3).tickPadding(2).tickSizeOuter(0));
  ay.select(".domain").attr("d", "M0," + c.top + "V" + c.bottom);
  [ax, ay].forEach(function (a) {
    a.select(".domain").attr("stroke", "#111").attr("stroke-width", 2);
    a.selectAll(".tick line").attr("stroke", "#222").attr("stroke-width", 1);
    a.selectAll("text").attr("font-family", serif).attr("font-size", 15.5).attr("font-weight", "bold").attr("fill", "#111")
      .attr("transform", "scale(.84,1)");
  });

  label(svg, c.titleX, c.titleY, c.title, 24, { fill: "#111", narrow: .85 });
  label(svg, c.featX, c.featY, "Features", 14.4, { weight: "bold", rotate: true, fill: "#111" });
  if (c.impX) label(svg, c.impX, c.impY, "Importance Scores", 16.6, { weight: "bold", fill: "#111", narrow: .86 });
}

panelLetter("A", 63, 59);
panelLetter("B", 850, 57);
panelLetter("C", 1675, 59);
panelLetter("D", 75, 874);
panelLetter("E", 850, 874);
panelLetter("F", 1676, 874);
panelLetter("G", 72, 1633);
panelLetter("H", 849, 1633);
panelLetter("I", 1676, 1633);
panelLetter("J", 62, 2440);

drawRoc({ left: 90, right: 796.5, top: 100, bottom: 792, x0: 121.3, x1: 765, y0: 761.4, y1: 130,
  titleX: 446, titleY: 78, xlabX: 443, xlabY: 828, ylabX: 35, ylabY: 445,
  legX0: 371, legText: 404, legY: 498, legStep: 27, name: "CCRC", nameX: 171, nameY: 757 },
  [rocA_Logistic, rocA_SVM, rocA_GBM, rocA_NN, rocA_RF, rocA_Xgb, rocA_KNN, rocA_Ada, rocA_LGB, rocA_Cat], aucA, [7]);

drawRoc({ left: 886.4, right: 1615, top: 99, bottom: 783, x0: 918.3, x1: 1583.6, y0: 753, y1: 129,
  titleX: 1254, titleY: 77, xlabX: 1250, xlabY: 819, ylabX: 830, ylabY: 441,
  legX0: 1177, legText: 1211, legY: 493, legStep: 26.65, name: "GSE39582", nameX: 936, nameY: 757 },
  [rocB_Logistic, rocB_SVM, rocB_GBM, rocB_NN, rocB_RF, rocB_Xgb, rocB_KNN, rocB_Ada, rocB_LGB, rocB_Cat], aucB, [5, 7, 8]);

drawRoc({ left: 1703, right: 2401.5, top: 99, bottom: 783, x0: 1733.6, x1: 2370.6, y0: 753, y1: 129,
  titleX: 2055, titleY: 77, xlabX: 2052, xlabY: 819.5, ylabX: 1649, ylabY: 441,
  legX0: 1981, legText: 2013, legY: 493, legStep: 26.65, name: "GSE38832", nameX: 1773, nameY: 757 },
  [rocC_Logistic, rocC_SVM, rocC_GBM, rocC_NN, rocC_RF, rocC_Xgb, rocC_KNN, rocC_Ada, rocC_LGB, rocC_Cat], aucC, [7, 8]);

drawDca({ left: 96.8, right: 795, top: 874, axisY: 1499.6, x0: 122.4, x1: 768.8, y0: 1449, y1: 897.6,
  legL: 587, legT: 874.6, legB: 1189, xlabX: 445, xlabY: 1585, ylabX: 13, ylabY: 1186,
  name: "CCRC", nameX: 152, nameY: 1410 },
  [dcaD_Logistic, dcaD_SVM, dcaD_GBM, dcaD_NN, dcaD_RF, dcaD_Xgb, dcaD_KNN, dcaD_Ada, dcaD_LGB, dcaD_Cat], dcaD_All);

drawDca({ left: 895, right: 1592.4, top: 871, axisY: 1496, x0: 920.3, x1: 1566.7, y0: 1445, y1: 894,
  legL: 1384.7, legT: 871, legB: 1186, xlabX: 1243.5, xlabY: 1582, ylabX: 810, ylabY: 1183,
  name: "GSE39582", nameX: 938.6, nameY: 1410 },
  [dcaE_Logistic, dcaE_SVM, dcaE_GBM, dcaE_NN, dcaE_RF, dcaE_Xgb, dcaE_KNN, dcaE_Ada, dcaE_LGB, dcaE_Cat].map(function (s) { return dcaE_head.concat(s); }),
  dcaE_head.concat(dcaE_All));

drawDca({ left: 1703, right: 2418, top: 876, axisY: 1499.6, x0: 1729, x1: 2391, y0: 1449, y1: 899,
  legL: 2205, legT: 876, legB: 1190, xlabX: 2060, xlabY: 1585, ylabX: 1617, ylabY: 1187,
  name: "GSE38832", nameX: 1716, nameY: 1410 },
  [dcaF_Logistic, dcaF_SVM, dcaF_GBM, dcaF_NN, dcaF_RF, dcaF_Xgb, dcaF_KNN, dcaF_Ada, dcaF_LGB, dcaF_Cat].map(function (s) { return dcaF_head.concat(s); }),
  dcaF_head.concat(dcaF_All));

drawConfusion({ left: 117, right: 746, top: 1705, bottom: 2334.7, streaks: true,
  fills: ["#64a3c5", "#e3e9f4", "#e3e9f4", "#5194bf"], pctDx: [0, 0, 0, 0], cntDx: [0, 0, 0, 0] }, pctG, cntG);
drawConfusion({ left: 912, right: 1564.4, top: 1695, bottom: 2347,
  fills: ["#c2d4e4", "#85b1d0", "#c2d4e4", "#4181b5"], pctDx: [-6, 5, -6, -1], cntDx: [1, -1, -4, 4] }, pctH, cntH);
drawConfusion({ left: 1731.7, right: 2375, top: 1698, bottom: 2342,
  fills: ["#92b6d3", "#abc9e6", "#c6d8ee", "#4181b5"], pctDx: [6, 16, -7, -2], cntDx: [0, 5, 0, -5] }, pctI, cntI);

var t100 = [0, 25, 50, 75, 100];
drawBars({ title: "RandomForest", titleX: 354, titleY: 2473, left: 75.5, right: 591, top: 2490, bottom: 2851.8,
  x0: 101, xMax: 612.5, tickMax: 100, ticks: [0, 25, 50, 75], yFirst: 2513.2, yLast: 2828.3, barH: 23.5,
  featX: 9.3, featY: 2670.5, clip: [0, 2440, 592, 2880] }, featRF, impRF);
drawBars({ title: "LightGBM", titleX: 933, titleY: 2464.5, left: 666.8, right: 1184, top: 2481.5, bottom: 2851.8,
  x0: 691, xMax: 1135, tickMax: .3, ticks: [0, .1, .2, .3], fmt: d3.format(".1f"), yFirst: 2506, yLast: 2827.7, barH: 24,
  featX: 604, featY: 2667, clip: [590, 2440, 1190, 2880] }, featLGB, impLGB);
drawBars({ title: "KNN", titleX: 1530, titleY: 2455.7, left: 1261, right: 1799, top: 2473.3, bottom: 2850.6,
  x0: 1286, xMax: 1779.4, tickMax: 100, ticks: t100, yFirst: 2498, yLast: 2826.5, barH: 24.6,
  featX: 1196, featY: 2661.6, clip: [1190, 2440, 1805, 2860] }, featKNN, impKNN);
drawBars({ title: "CatBoost", titleX: 2149, titleY: 2453, left: 1877, right: 2422, top: 2471, bottom: 2849.4,
  x0: 1901, xMax: 2333, tickMax: 30, ticks: [0, 10, 20, 30], yFirst: 2495.6, yLast: 2825.3, barH: 24.6,
  featX: 1811.4, featY: 2660.5, clip: [1805, 2440, 2426, 2880] }, featCat, impCat);
drawBars({ title: "GBM", titleX: 324.5, titleY: 2885.8, left: 69.2, right: 585, top: 2902.8, bottom: 3259.5,
  x0: 93.4, xMax: 561.8, tickMax: 100, ticks: t100, yFirst: 2925.7, yLast: 3236.7, barH: 23,
  featX: 8.6, featY: 3080.6, impX: 327.6, impY: 3285.4, clip: [0, 2880, 590, 3295] }, featGBM, impGBM);
drawBars({ title: "NeuralNetwork", titleX: 931, titleY: 2880.5, left: 662, right: 1184, top: 2897.5, bottom: 3258.4,
  x0: 687, xMax: 1181, tickMax: 100, ticks: t100, yFirst: 2921, yLast: 3235, barH: 23.5,
  featX: 598, featY: 3078, impX: 933.7, impY: 3283.6, clip: [590, 2880, 1186, 3295] }, featNN, impNN);
drawBars({ title: "Logistic", titleX: 1523.7, titleY: 2873.5, left: 1259.4, right: 1793, top: 2890.5, bottom: 3257.8,
  x0: 1283.7, xMax: 1769, tickMax: 100, ticks: t100, yFirst: 2914, yLast: 3233.7, barH: 24.6,
  featX: 1196, featY: 3072.4, impX: 1526.8, impY: 3283.6, clip: [1190, 2870, 1805, 3295] }, featLog, impLog);
drawBars({ title: "Adaboost", titleX: 2137.5, titleY: 2882.3, left: 1874.7, right: 2404.8, top: 2898.7, bottom: 3263,
  x0: 1898, xMax: 2380.6, tickMax: 100, ticks: t100, yFirst: 2922.8, yLast: 3239.6, barH: 24,
  featX: 1811.4, featY: 3081, impX: 2139, impY: 3289, clip: [1805, 2880, 2426, 3295] }, featAda, impAda);
</script>
</body>
</html>
